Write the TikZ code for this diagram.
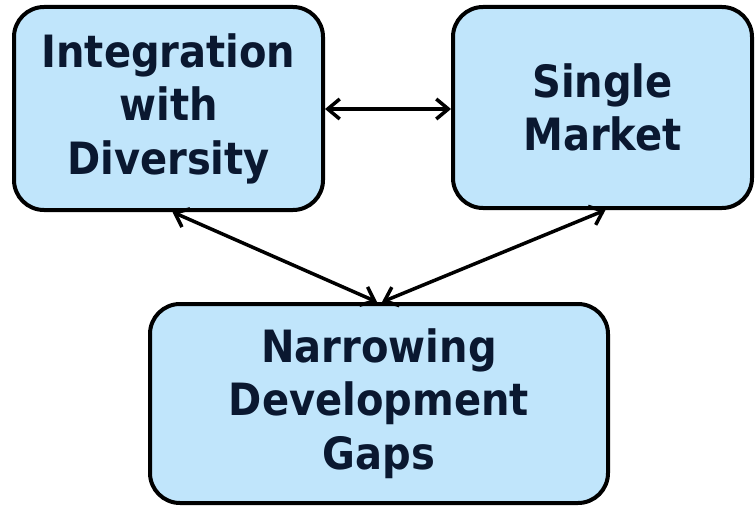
\documentclass[tikz,border=0pt]{standalone}
\usepackage{fontspec}
\newfontfamily\boxfont{DejaVu Sans Condensed}
\usetikzlibrary{arrows.meta,shadows}
\definecolor{boxfill}{HTML}{C0E5FB}
\definecolor{boxtext}{HTML}{0A1830}
\tikzset{
  topic/.style={draw=black, line width=4pt, fill=boxfill, rounded corners=30pt,
    align=center, text=boxtext, inner sep=0pt,
    font=\boxfont\bfseries\fontsize{44.5}{53.5}\selectfont,
    drop shadow={shadow xshift=1.5pt, shadow yshift=-1.5pt, opacity=0.25, fill=black}},
  link/.style={line width=3.5pt, line cap=round,
    {Straight Barb[length=12pt,width=20pt]}-{Straight Barb[length=12pt,width=20pt]}}
}
\begin{document}
\begin{tikzpicture}[x=1pt,y=-1pt]
\useasboundingbox (0,0) rectangle (755,508);
\node[topic, minimum width=309pt, minimum height=203pt] (L) at (168.5,108.5) {Integration\\with\\Diversity};
\node[topic, minimum width=299pt, minimum height=201pt] (R) at (602.5,107.5) {Single\\Market};
\node[topic, minimum width=458pt, minimum height=199pt] (N) at (379,403.5) {Narrowing\\Development\\Gaps};
\draw[link] (L.east |- 0,109) -- (R.west |- 0,109);
\draw[link] ([xshift=4pt]L.south) -- ([xshift=-2pt]N.north);
\draw[link] ([xshift=3pt]R.south) -- ([xshift=3pt]N.north);
\end{tikzpicture}
\end{document}
